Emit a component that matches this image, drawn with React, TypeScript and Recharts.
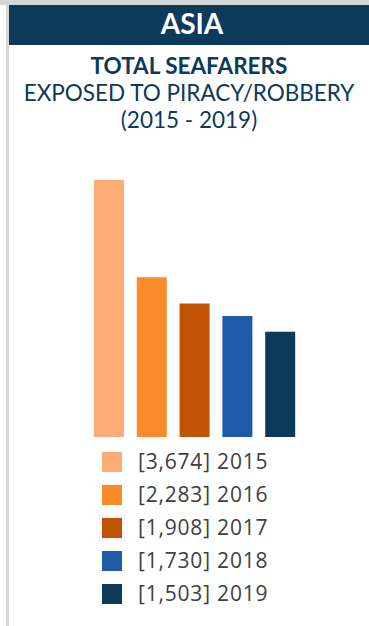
import { BarChart, Bar, XAxis, YAxis, Cell } from "recharts";

const years = ["2015", "2016", "2017", "2018", "2019"];
const seafarers = [3674, 2283, 1908, 1730, 1503];
const barColors = ["#FDAC76", "#F98B2B", "#C35304", "#1E5AA8", "#0B3A5A"];

const chartData = years.map((year, i) => ({ year, value: seafarers[i] }));

const navy = "#0B3A5A";

export default function App() {
  return (
    <div
      style={{
        position: "fixed",
        top: 0,
        left: 0,
        width: 369,
        height: 626,
        background: "#fff",
        overflow: "hidden",
        fontFamily: "Lato, sans-serif",
      }}
    >
      {/* frame */}
      <div style={{ position: "absolute", top: 0, left: 0, width: 369, height: 5, background: "#d6d6d6" }} />
      <div style={{ position: "absolute", top: 0, left: 6, width: 3, height: 626, background: "#d6d6d6" }} />

      {/* header band */}
      <div
        style={{
          position: "absolute",
          top: 5,
          left: 9,
          width: 360,
          height: 40,
          background: navy,
          color: "#fff",
          fontWeight: 700,
          fontSize: 28,
          lineHeight: "37px",
          textAlign: "center",
        }}
      >
        <span style={{ position: "relative", left: 3 }}>ASIA</span>
      </div>

      {/* titles */}
      <div
        style={{
          position: "absolute",
          top: 52,
          left: 9,
          width: 360,
          textAlign: "center",
          color: navy,
          fontSize: 22.5,
          lineHeight: "27px",
        }}
      >
        <div style={{ fontWeight: 700 }}>TOTAL SEAFARERS</div>
        <div>EXPOSED TO PIRACY/ROBBERY</div>
        <div>(2015 - 2019)</div>
      </div>

      <div style={{ position: "absolute", top: 0, left: 0 }}>
        <BarChart
          width={369}
          height={440}
          data={chartData}
          margin={{ top: 180, right: 67, bottom: 3, left: 88 }}
        >
          <XAxis dataKey="year" hide />
          <YAxis hide domain={[0, 3674]} />
          <Bar dataKey="value" barSize={30} isAnimationActive={false}>
            {chartData.map((d, i) => (
              <Cell key={d.year} fill={barColors[i]} />
            ))}
          </Bar>
        </BarChart>
      </div>

      {/* legend */}
      <div
        style={{
          position: "absolute",
          top: 445,
          left: 102,
          fontFamily: "'Open Sans', sans-serif",
          fontSize: 21,
          color: "#404040",
        }}
      >
        {years.map((year, i) => (
          <div key={year} style={{ height: 33, lineHeight: "33px", display: "flex" }}>
            <span
              style={{
                width: 20,
                height: 20,
                marginTop: 7,
                background: barColors[i],
                flex: "none",
              }}
            />
            <span style={{ marginLeft: 16, letterSpacing: 0.8, whiteSpace: "nowrap" }}>
              [{seafarers[i].toLocaleString("en-US")}] {year}
            </span>
          </div>
        ))}
      </div>
    </div>
  );
}
